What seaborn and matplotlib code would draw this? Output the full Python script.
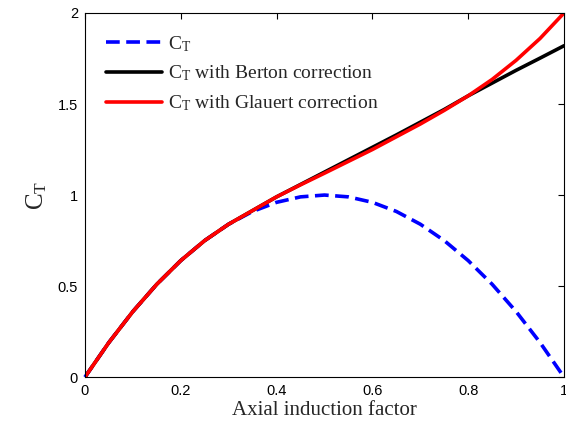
import matplotlib
matplotlib.use("Agg")
import matplotlib.pyplot as plt
import seaborn as sns
import pandas as pd

a = [0.0, 0.05, 0.10, 0.15, 0.20, 0.25, 0.30, 0.35, 0.40, 0.45, 0.50,
     0.55, 0.60, 0.65, 0.70, 0.75, 0.80, 0.85, 0.90, 0.95, 1.0]
ct = [0.0, 0.19, 0.36, 0.51, 0.64, 0.75, 0.84, 0.91, 0.96, 0.99, 1.0,
      0.99, 0.96, 0.91, 0.84, 0.75, 0.64, 0.51, 0.36, 0.19, 0.0]
ct_berton = [0.0, 0.19, 0.36, 0.51, 0.64, 0.75, 0.84, 0.915, 0.99, 1.058, 1.126,
             1.194, 1.262, 1.33, 1.40, 1.47, 1.545, 1.615, 1.685, 1.752, 1.82]
ct_glauert = [0.0, 0.19, 0.36, 0.51, 0.64, 0.75, 0.84, 0.915, 0.99, 1.056, 1.12,
              1.185, 1.25, 1.32, 1.39, 1.465, 1.545, 1.635, 1.74, 1.86, 2.0]
labels = ["C$_\\mathregular{T}$",
          "C$_\\mathregular{T}$ with Berton correction",
          "C$_\\mathregular{T}$ with Glauert correction"]
xticks = [0, 0.2, 0.4, 0.6, 0.8, 1]
yticks = [0, 0.5, 1, 1.5, 2]

sns.set_style("white")
plt.rcParams["font.family"] = ["Liberation Sans", "DejaVu Sans"]
plt.rcParams["mathtext.fontset"] = "custom"
plt.rcParams["mathtext.rm"] = "Liberation Serif"
plt.rcParams["mathtext.it"] = "Liberation Serif:italic"

fig = plt.figure(figsize=(5.66, 4.32), dpi=100)
ax = fig.add_axes([0.150, 0.127, 0.8465, 0.843])

df = pd.DataFrame({"a": a, "ct": ct, "berton": ct_berton, "glauert": ct_glauert})
sns.lineplot(data=df, x="a", y="ct", ax=ax, color="#0000ff", lw=2.6,
             linestyle=(0, (3.8, 1.8)), label=labels[0], clip_on=False)
sns.lineplot(data=df, x="a", y="berton", ax=ax, color="black", lw=2.6,
             label=labels[1])
sns.lineplot(data=df, x="a", y="glauert", ax=ax, color="#ff0000", lw=2.6,
             label=labels[2])

ax.set_xlim(0, 1)
ax.set_ylim(0, 2)
ax.set_xticks(xticks)
ax.set_xticklabels([f"{v:g}" for v in xticks])
ax.set_yticks(yticks)
ax.set_yticklabels([f"{v:g}" for v in yticks])
ax.tick_params(direction="in", length=4, width=0.8, top=True, right=True,
               labelsize=10.5, colors="black", pad=5)
for s in ax.spines.values():
    s.set_color("black")
    s.set_linewidth(0.8)
ax.set_xlabel("Axial induction factor", family="Liberation Serif", fontsize=15, labelpad=2)
ax.set_ylabel("C$_\\mathregular{T}$", family="Liberation Serif", fontsize=18, labelpad=6)

leg = ax.legend(loc="upper left", frameon=False, handlelength=2.9,
                prop={"family": "Liberation Serif", "size": 14},
                borderaxespad=0.78, labelspacing=0.52, handletextpad=0.3,
                borderpad=0.3)

fig.savefig("out.png", dpi=100)
